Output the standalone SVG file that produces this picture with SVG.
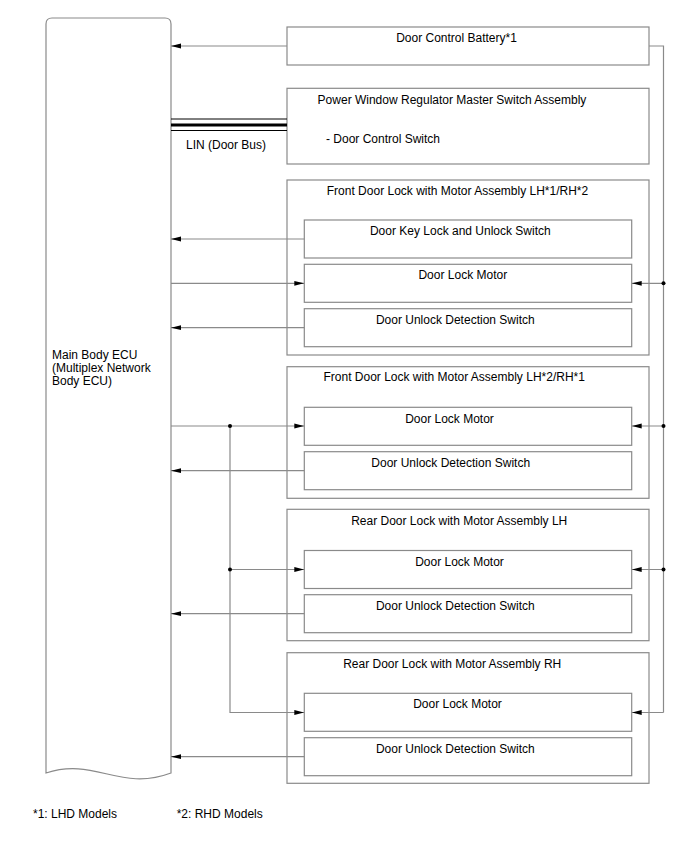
<svg xmlns="http://www.w3.org/2000/svg" width="688" height="852" viewBox="0 0 688 852">
<style>
text{font-family:"Liberation Sans",Arial,sans-serif;font-size:12px;fill:#000}
.c{text-anchor:middle}
.box{fill:#fff;stroke:#8a8a8a;stroke-width:1.2}
.ln{fill:none;stroke:#8a8a8a;stroke-width:1.2}
.ar{marker-end:url(#ah)}
.dot{fill:#000}
</style>
<defs>
<marker id="ah" markerWidth="10" markerHeight="6" refX="10" refY="3" orient="auto" markerUnits="userSpaceOnUse"><path d="M0,0.6 L10,3 L0,5.4 Z" fill="#000"/></marker>
</defs>
<rect width="688" height="852" fill="#fff"/>
<g id="ecu">
<path class="box" d="M46,773 V24 Q46,18 52,18 H165 Q171,18 171,24 V773 C120,792 95,757 46,773 Z"/>
<text x="52" y="359">Main Body ECU</text>
<text x="52" y="372">(Multiplex Network</text>
<text x="52" y="385">Body ECU)</text>
</g>
<g id="battery">
<rect class="box" x="287" y="27" width="362" height="38"/>
<text class="c" x="456.5" y="42">Door Control Battery*1</text>
</g>
<g id="pw-master">
<rect class="box" x="287" y="88.3" width="362" height="75.7"/>
<text class="c" x="452" y="103.5">Power Window Regulator Master Switch Assembly</text>
<text x="326" y="143">- Door Control Switch</text>
</g>
<g id="front-lh1">
<rect class="box" x="287" y="180" width="362" height="175"/>
<text class="c" x="457.5" y="194.5">Front Door Lock with Motor Assembly LH*1/RH*2</text>
<g id="front-lh1-key">
<rect class="box" x="304.3" y="220" width="327.4" height="38"/>
<text class="c" x="460.3" y="235">Door Key Lock and Unlock Switch</text>
</g>
<g id="front-lh1-motor">
<rect class="box" x="304.3" y="264.3" width="327.4" height="38"/>
<text class="c" x="462.8" y="279.3">Door Lock Motor</text>
</g>
<g id="front-lh1-unlock">
<rect class="box" x="304.3" y="308.7" width="327.4" height="38"/>
<text class="c" x="455.3" y="323.5">Door Unlock Detection Switch</text>
</g>
</g>
<g id="front-lh2">
<rect class="box" x="287" y="366.7" width="362" height="131.6"/>
<text class="c" x="454.2" y="381.2">Front Door Lock with Motor Assembly LH*2/RH*1</text>
<g id="front-lh2-motor">
<rect class="box" x="304.3" y="407.3" width="327.4" height="38"/>
<text class="c" x="449.5" y="422.5">Door Lock Motor</text>
</g>
<g id="front-lh2-unlock">
<rect class="box" x="304.3" y="451.7" width="327.4" height="38"/>
<text class="c" x="450.7" y="466.7">Door Unlock Detection Switch</text>
</g>
</g>
<g id="rear-lh">
<rect class="box" x="287" y="509.3" width="362" height="131.4"/>
<text class="c" x="459.2" y="525">Rear Door Lock with Motor Assembly LH</text>
<g id="rear-lh-motor">
<rect class="box" x="304.3" y="550.5" width="327.4" height="38"/>
<text class="c" x="459.5" y="565.7">Door Lock Motor</text>
</g>
<g id="rear-lh-unlock">
<rect class="box" x="304.3" y="594.7" width="327.4" height="38"/>
<text class="c" x="455.3" y="610">Door Unlock Detection Switch</text>
</g>
</g>
<g id="rear-rh">
<rect class="box" x="287" y="652.7" width="362" height="130.6"/>
<text class="c" x="452.2" y="668.3">Rear Door Lock with Motor Assembly RH</text>
<g id="rear-rh-motor">
<rect class="box" x="304.3" y="693.3" width="327.4" height="38"/>
<text class="c" x="457.5" y="708.3">Door Lock Motor</text>
</g>
<g id="rear-rh-unlock">
<rect class="box" x="304.3" y="737.7" width="327.4" height="38"/>
<text class="c" x="455.3" y="753.3">Door Unlock Detection Switch</text>
</g>
</g>
<g id="connectors">
<line class="ln ar" x1="287" y1="46" x2="171" y2="46"/>
<line x1="171" y1="119" x2="287" y2="119" stroke="#000" stroke-width="1"/>
<line x1="171" y1="125" x2="287" y2="125" stroke="#000" stroke-width="3"/>
<line x1="171" y1="130.5" x2="287" y2="130.5" stroke="#000" stroke-width="1"/>
<text x="186" y="149">LIN (Door Bus)</text>
<polyline class="ln" points="649,46 663.5,46 663.5,712.5"/>
<line class="ln ar" x1="663.5" y1="712.5" x2="631.7" y2="712.5"/>
<line class="ln ar" x1="663.5" y1="283.3" x2="631.7" y2="283.3"/>
<line class="ln ar" x1="663.5" y1="426" x2="631.7" y2="426"/>
<line class="ln ar" x1="663.5" y1="569.5" x2="631.7" y2="569.5"/>
<circle class="dot" cx="663.5" cy="283.3" r="2"/>
<circle class="dot" cx="663.5" cy="426" r="2"/>
<circle class="dot" cx="663.5" cy="569.5" r="2"/>
<line class="ln ar" x1="304.3" y1="239" x2="171" y2="239"/>
<line class="ln ar" x1="171" y1="283.3" x2="304.3" y2="283.3"/>
<line class="ln ar" x1="304.3" y1="327.7" x2="171" y2="327.7"/>
<line class="ln ar" x1="171" y1="426" x2="304.3" y2="426"/>
<line class="ln ar" x1="304.3" y1="470.7" x2="171" y2="470.7"/>
<polyline class="ln" points="230,426 230,712.5 294,712.5"/>
<line class="ln ar" x1="230" y1="712.5" x2="304.3" y2="712.5"/>
<line class="ln ar" x1="230" y1="569.5" x2="304.3" y2="569.5"/>
<line class="ln ar" x1="304.3" y1="613.7" x2="171" y2="613.7"/>
<line class="ln ar" x1="304.3" y1="756.7" x2="171" y2="756.7"/>
<circle class="dot" cx="230" cy="426" r="2"/>
<circle class="dot" cx="230" cy="569.5" r="2"/>
</g>
<g id="notes">
<text x="33" y="818">*1: LHD Models</text>
<text x="176.7" y="818">*2: RHD Models</text>
</g>
</svg>
